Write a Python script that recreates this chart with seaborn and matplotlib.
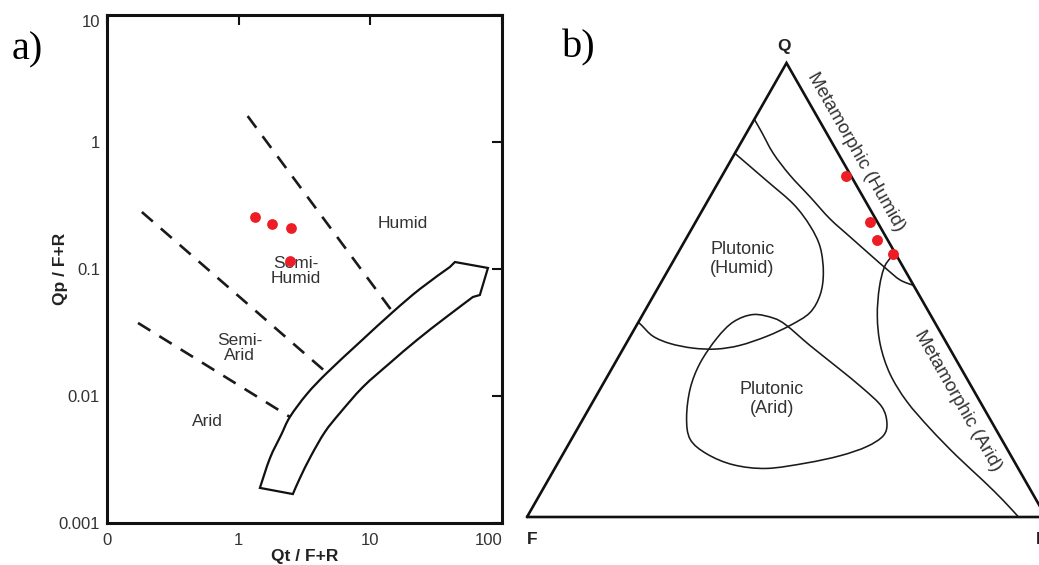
import numpy as np
import pandas as pd
import matplotlib
matplotlib.use("Agg")
import matplotlib.pyplot as plt
import seaborn as sns
from matplotlib.ticker import FixedLocator, FixedFormatter, NullLocator
from matplotlib.path import Path
from matplotlib.patches import PathPatch

# ---------------- panel a: Qt/F+R vs Qp/F+R (log-log) ----------------
qt_fr = [1.33, 1.79, 2.50, 2.45]
qp_fr = [0.257, 0.226, 0.210, 0.116]

x_ticks = [0.1, 1, 10, 100]
x_tick_labels = ["0", "1", "10", "100"]
y_ticks = [0.001, 0.01, 0.1, 1, 10]
y_tick_labels = ["0.001", "0.01", "0.1", "1", "10"]

# dashed climate boundaries (start, end)
bound_humid_x = [1.17, 14.8]
bound_humid_y = [1.60, 0.0458]
bound_semihumid_x = [0.184, 4.68]
bound_semihumid_y = [0.281, 0.0152]
bound_semiarid_x = [0.172, 2.45]
bound_semiarid_y = [0.0376, 0.00684]

# broad curved arrow outline: upper edge, head, lower edge
arrow_upper_x = [1.45, 1.73, 2.10, 2.45, 3.30, 4.68, 8.34, 14.8, 23.8, 40.2]
arrow_upper_y = [0.00189, 0.00325, 0.00493, 0.00684, 0.01037, 0.0152, 0.0266,
                 0.0458, 0.0696, 0.1037]
arrow_head_x = [43.9, 78.2, 67.9]
arrow_head_y = [0.1135, 0.1019, 0.0624]
arrow_lower_x = [60.1, 36.9, 22.6, 14.1, 8.79, 5.88, 4.52, 3.54, 2.92, 2.58]
arrow_lower_y = [0.0602, 0.0411, 0.0276, 0.0182, 0.01178, 0.00735, 0.00521,
                 0.00337, 0.00226, 0.00169]

zone_labels_a = ["Humid", "Semi-\nHumid", "Semi-\nArid", "Arid"]
zone_label_x = [17.7, 2.72, 1.02, 0.574]
zone_label_y = [0.230, 0.0964, 0.0239, 0.00635]

# ---------------- panel b: QFR ternary (percent) ----------------
q_pct = [75, 65, 61, 58]
f_pct = [1, 1.5, 2, 0.5]
r_pct = [24, 33.5, 37, 41.5]

meta_humid_q = [87.6, 84.8, 80.1, 75.3, 70.5, 65.7, 61.7, 57.8, 54.6, 52.2, 51.0]
meta_humid_r = [0.0, 2.8, 7.4, 13.0, 19.3, 25.5, 31.4, 37.2, 42.0, 45.8, 49.0]

plut_humid_q = [80.1, 74.1, 68.9, 64.1, 59.4, 53.8, 49.0, 45.0, 42.2, 39.8, 37.8,
                37.0, 37.2, 38.2, 39.8, 42.2, 42.9]
plut_humid_r = [0.0, 9.1, 16.9, 22.5, 26.8, 30.2, 32.0, 32.0, 29.6, 26.3, 22.1,
                18.0, 13.4, 8.5, 4.4, 1.0, 0.0]

plut_arid_q = [44.6, 43.8, 42.2, 37.8, 33.1, 28.3, 24.3, 20.7, 17.9, 15.5, 13.5,
               11.9, 10.7, 11.5, 13.9, 17.1, 21.9, 28.3, 33.9, 39.4, 43.0]
plut_arid_r = [21.3, 25.6, 28.9, 35.6, 43.1, 50.6, 56.2, 59.0, 59.7, 57.7, 53.6,
               47.9, 40.8, 34.0, 27.7, 22.9, 19.8, 17.3, 16.4, 16.9, 18.3]

meta_arid_q = [58.1, 55.4, 50.6, 44.2, 37.8, 31.5, 25.5, 19.5, 13.5, 8.0, 3.6, 0.0]
meta_arid_r = [41.9, 41.3, 42.6, 45.4, 49.2, 54.2, 60.4, 67.9, 76.0, 83.9, 90.0, 94.7]

zone_labels_b = ["Plutonic\n(Humid)", "Plutonic\n(Arid)", "Metamorphic (Humid)", "Metamorphic (Arid)"]
zone_label_q = [56.8, 25.9, 80.5, 25.5]
zone_label_r = [13.1, 34.2, 23.1, 70.35]
zone_label_rot = [0, 0, -60.3, -60.3]


# ---------------- helpers: smooth outline through the read points ----------------
def smooth_segments(P, closed=False):
    """Catmull-Rom through points P (Nx2), returned as cubic Bezier vertices (no MOVETO)."""
    P = np.asarray(P, float)
    n = len(P)
    verts = []
    nseg = n if closed else n - 1
    for i in range(nseg):
        p1 = P[i]
        p2 = P[(i + 1) % n]
        if closed:
            p0 = P[(i - 1) % n]
            p3 = P[(i + 2) % n]
        else:
            p0 = P[i - 1] if i > 0 else P[i]
            p3 = P[i + 2] if i + 2 < n else P[i + 1]
        c1 = p1 + (p2 - p0) / 6.0
        c2 = p2 - (p3 - p1) / 6.0
        verts += [c1, c2, p2]
    return verts


def smooth_path(P, closed=False):
    P = np.asarray(P, float)
    segs = smooth_segments(P, closed)
    verts = [P[0]] + segs
    codes = [Path.MOVETO] + [Path.CURVE4] * len(segs)
    return Path(np.array(verts), codes)


# ---------------- styling ----------------
sns.set_style("white")
plt.rcParams["font.family"] = ["Liberation Sans", "DejaVu Sans"]

RED = "#ee1d25"
TXT = "#333333"
W, Hpx = 1039, 565
fig = plt.figure(figsize=(W / 100, Hpx / 100), dpi=100)

# ---------------- panel a ----------------
ax = fig.add_axes([107 / W, 42 / Hpx, 395 / W, 508 / Hpx])
ax.set_xscale("log")
ax.set_yscale("log")
ax.set_xlim(0.1, 100)
ax.set_ylim(0.001, 10)

for bxs, bys in [(bound_humid_x, bound_humid_y),
                 (bound_semihumid_x, bound_semihumid_y),
                 (bound_semiarid_x, bound_semiarid_y)]:
    ax.plot(bxs, bys, color="#1a1a1a", lw=1.9, linestyle=(0, (5.5, 4.0)),
            dash_capstyle="butt")

# arrow: smooth edges computed in log space (log axes map it linearly)
up = np.log10(np.column_stack([arrow_upper_x, arrow_upper_y]))
hd = np.log10(np.column_stack([arrow_head_x, arrow_head_y]))
lo = np.log10(np.column_stack([arrow_lower_x, arrow_lower_y]))
verts = [up[0]] + smooth_segments(up) + list(hd) + [lo[0]] + smooth_segments(lo) + [up[0]]
codes = ([Path.MOVETO] + [Path.CURVE4] * (3 * (len(up) - 1)) + [Path.LINETO] * len(hd)
         + [Path.LINETO] + [Path.CURVE4] * (3 * (len(lo) - 1)) + [Path.CLOSEPOLY])
arrow_path = Path(10 ** np.array(verts), codes)
ax.add_patch(PathPatch(arrow_path, facecolor="white", edgecolor="#111111", lw=1.6,
                       joinstyle="miter", zorder=3))

for lab, lx, ly in zip(zone_labels_a, zone_label_x, zone_label_y):
    ax.text(lx, ly, lab, ha="center", va="center", fontsize=12.5, color=TXT,
            linespacing=1.05, zorder=4)

df_a = pd.DataFrame({"qt": qt_fr, "qp": qp_fr})
sns.scatterplot(data=df_a, x="qt", y="qp", ax=ax, color=RED, s=60,
                linewidth=0, zorder=5, legend=False)

ax.xaxis.set_major_locator(FixedLocator(x_ticks))
ax.xaxis.set_major_formatter(FixedFormatter(x_tick_labels))
ax.yaxis.set_major_locator(FixedLocator(y_ticks))
ax.yaxis.set_major_formatter(FixedFormatter(y_tick_labels))
ax.xaxis.set_minor_locator(NullLocator())
ax.yaxis.set_minor_locator(NullLocator())
ax.tick_params(which="major", direction="in", length=7, width=1.5,
               top=True, right=True, labelsize=12, labelcolor=TXT, color="#111111")
ax.tick_params(axis="x", pad=7)
ax.tick_params(axis="y", pad=5)
ax.xaxis.get_major_ticks()[-1].label1.set_horizontalalignment("right")
ax.yaxis.get_major_ticks()[-1].label1.set_verticalalignment("top")
for sp in ax.spines.values():
    sp.set_linewidth(2.2)
    sp.set_color("#111111")

ax.set_xlabel("Qt / F+R", fontsize=12.5, fontweight="bold", color="#222222")
ax.set_ylabel("Qp / F+R", fontsize=12.5, fontweight="bold", color="#222222")
ax.xaxis.label.set_va("center")
ax.yaxis.label.set_va("center")
ax.xaxis.set_label_coords(0.5, (523 - 556) / 508)
ax.yaxis.set_label_coords((60 - 107) / 395, 0.5)

# ---------------- panel b ----------------
H = np.sqrt(3) / 2


def to_xy(q, r):
    q = np.asarray(q, float) / 100.0
    r = np.asarray(r, float) / 100.0
    return r + q / 2.0, q * H


bx = fig.add_axes([527 / W, 48 / Hpx, 519 / W, 454 / Hpx])
bx.set_xlim(0, 1)
bx.set_ylim(0, H)
bx.axis("off")

tri_x, tri_y = to_xy([0, 0, 100, 0], [0, 100, 0, 0])
bx.plot(tri_x, tri_y, color="#111111", lw=1.9, clip_on=False,
        solid_joinstyle="miter")

for cq, cr, closed in [(meta_humid_q, meta_humid_r, False),
                       (plut_humid_q, plut_humid_r, False),
                       (plut_arid_q, plut_arid_r, True),
                       (meta_arid_q, meta_arid_r, False)]:
    cx, cy = to_xy(cq, cr)
    pth = smooth_path(np.column_stack([cx, cy]), closed=closed)
    bx.add_patch(PathPatch(pth, fill=False, edgecolor="#1a1a1a", lw=1.15,
                           clip_on=False))

for lab, lq, lr, rot in zip(zone_labels_b, zone_label_q, zone_label_r, zone_label_rot):
    tx, ty = to_xy(lq, lr)
    bx.text(tx, ty, lab, ha="center", va="center", fontsize=13.5 if rot else 13,
            color=TXT, rotation=rot, rotation_mode="anchor", linespacing=1.15)

px, py = to_xy(q_pct, r_pct)
df_b = pd.DataFrame({"x": px, "y": py})
sns.scatterplot(data=df_b, x="x", y="y", ax=bx, color=RED, s=62,
                linewidth=0, zorder=5, legend=False, clip_on=False)

for lab, vq, vr, off in [("Q", 100, 0, (-2, 16)), ("F", 0, 0, (5, -22)),
                         ("R", 0, 100, (-4, -22))]:
    vx, vy = to_xy(vq, vr)
    bx.annotate(lab, (float(vx), float(vy)), xytext=off, textcoords="offset pixels",
                ha="center", va="center", fontsize=12.5, fontweight="bold",
                color="#222222", annotation_clip=False)

# panel tags
fig.text(27 / W, 1 - 50 / Hpx, "a)", fontsize=29, family=["Liberation Serif"],
         ha="center", va="center", color="black")
fig.text(579 / W, 1 - 48 / Hpx, "b)", fontsize=29, family=["Liberation Serif"],
         ha="center", va="center", color="black")

fig.savefig("out.png", dpi=100, facecolor="white")
